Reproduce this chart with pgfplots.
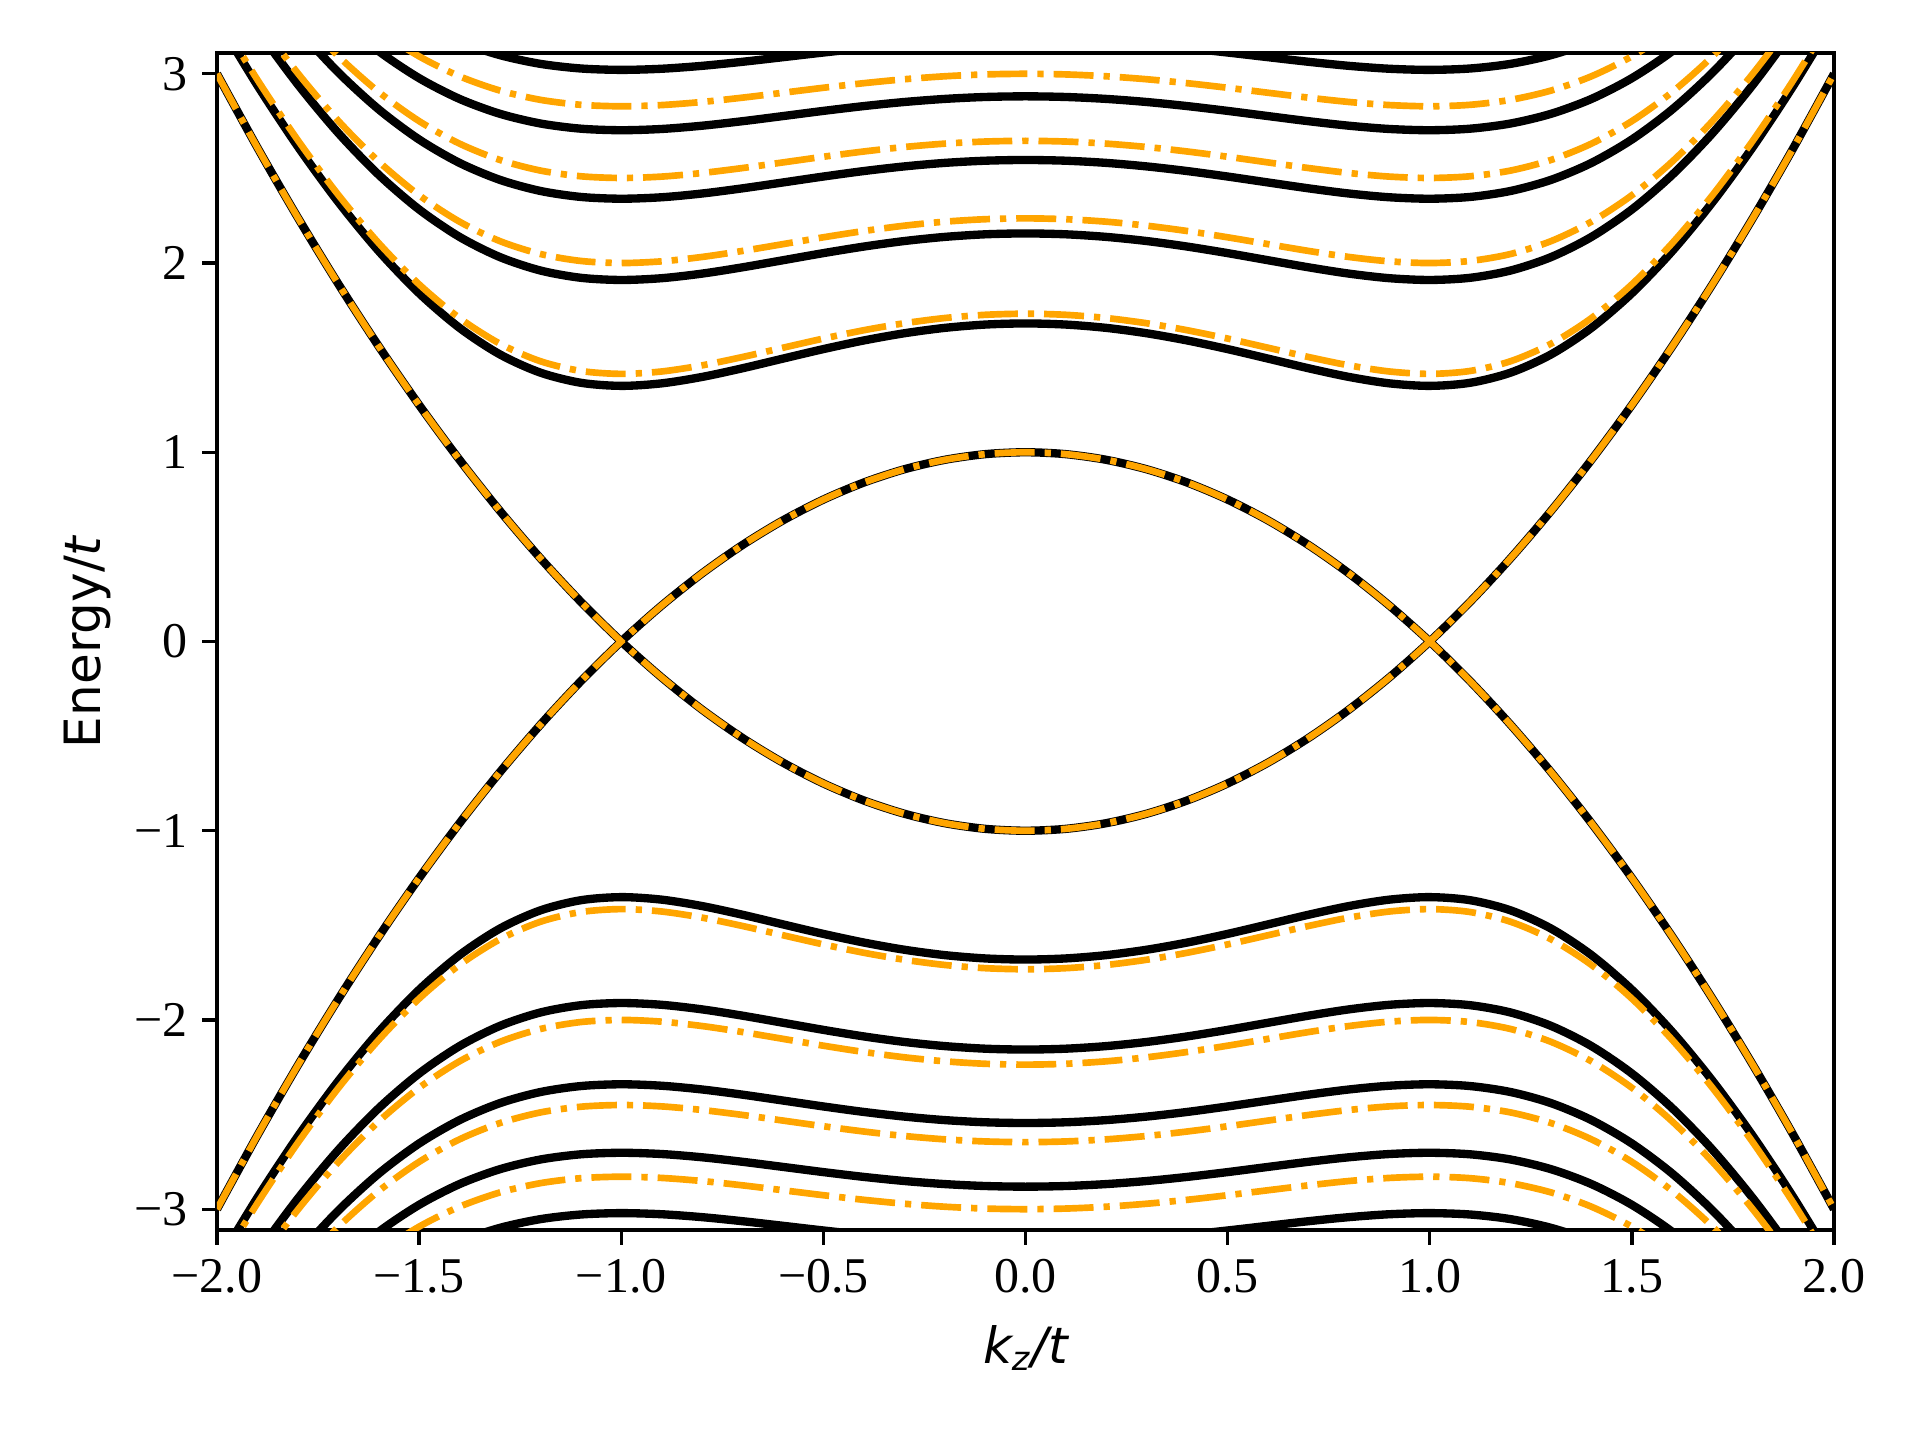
\documentclass[border=0pt]{standalone}
\usepackage{fontspec}
\setmainfont{Liberation Serif}
\newfontfamily\dejavu{DejaVu Sans}
\usepackage{pgfplots}
\usepackage{pgfplotstable}
\pgfplotsset{compat=1.18}
\definecolor{orng}{RGB}{255,165,0}

\pgfplotstableread{
k c b1 b2 b3 b4 b5 o1 o2 o3 o4
-2.0 3.00 3.2901 3.5567 3.8046 4.0373 4.2573 3.3166 3.6056 3.8730 4.1231
-1.9 2.61 2.9389 3.2345 3.5053 3.7566 3.9921 2.9685 3.2882 3.5794 3.8487
-1.8 2.24 2.6158 2.9441 3.2392 3.5097 3.7607 2.6491 3.0029 3.3193 3.6080
-1.7 1.89 2.3232 2.6874 3.0078 3.2973 3.5633 2.3605 2.7517 3.0939 3.4018
-1.6 1.56 2.0636 2.4665 2.8122 3.1199 3.3998 2.1056 2.5365 2.9041 3.2301
-1.5 1.25 1.8405 2.2831 2.6528 2.9770 3.2692 1.8875 2.3585 2.7500 3.0923
-1.4 0.96 1.6573 2.1381 2.5292 2.8673 3.1696 1.7093 2.2185 2.6309 2.9869
-1.3 0.69 1.5169 2.0313 2.4395 2.7886 3.0986 1.5736 2.1157 2.5448 2.9114
-1.2 0.44 1.4208 1.9605 2.3809 2.7374 3.0526 1.4811 2.0478 2.4887 2.8625
-1.1 0.21 1.3672 1.9220 2.3493 2.7100 3.0281 1.4297 2.0110 2.4585 2.8362
-1.0 0.00 1.3509 1.9105 2.3399 2.7019 3.0208 1.4142 2.0000 2.4495 2.8284
-0.9 -0.19 1.3642 1.9199 2.3476 2.7085 3.0267 1.4269 2.0090 2.4568 2.8348
-0.8 -0.36 1.3981 1.9441 2.3674 2.7257 3.0421 1.4593 2.0321 2.4758 2.8512
-0.7 -0.51 1.4440 1.9774 2.3948 2.7496 3.0635 1.5034 2.0640 2.5020 2.8740
-0.6 -0.64 1.4949 2.0148 2.4258 2.7766 3.0878 1.5523 2.0999 2.5317 2.8999
-0.5 -0.75 1.5452 2.0524 2.4571 2.8040 3.1125 1.6008 2.1360 2.5617 2.9262
-0.4 -0.84 1.5908 2.0870 2.4861 2.8294 3.1354 1.6449 2.1692 2.5895 2.9505
-0.3 -0.91 1.6288 2.1162 2.5106 2.8510 3.1548 1.6817 2.1973 2.6131 2.9712
-0.2 -0.96 1.6573 2.1381 2.5292 2.8673 3.1696 1.7093 2.2185 2.6309 2.9869
-0.1 -0.99 1.6748 2.1518 2.5407 2.8775 3.1788 1.7263 2.2316 2.6420 2.9967
0.0 -1.00 1.6808 2.1564 2.5446 2.8810 3.1820 1.7321 2.2361 2.6458 3.0000
0.1 -0.99 1.6748 2.1518 2.5407 2.8775 3.1788 1.7263 2.2316 2.6420 2.9967
0.2 -0.96 1.6573 2.1381 2.5292 2.8673 3.1696 1.7093 2.2185 2.6309 2.9869
0.3 -0.91 1.6288 2.1162 2.5106 2.8510 3.1548 1.6817 2.1973 2.6131 2.9712
0.4 -0.84 1.5908 2.0870 2.4861 2.8294 3.1354 1.6449 2.1692 2.5895 2.9505
0.5 -0.75 1.5452 2.0524 2.4571 2.8040 3.1125 1.6008 2.1360 2.5617 2.9262
0.6 -0.64 1.4949 2.0148 2.4258 2.7766 3.0878 1.5523 2.0999 2.5317 2.8999
0.7 -0.51 1.4440 1.9774 2.3948 2.7496 3.0635 1.5034 2.0640 2.5020 2.8740
0.8 -0.36 1.3981 1.9441 2.3674 2.7257 3.0421 1.4593 2.0321 2.4758 2.8512
0.9 -0.19 1.3642 1.9199 2.3476 2.7085 3.0267 1.4269 2.0090 2.4568 2.8348
1.0 0.00 1.3509 1.9105 2.3399 2.7019 3.0208 1.4142 2.0000 2.4495 2.8284
1.1 0.21 1.3672 1.9220 2.3493 2.7100 3.0281 1.4297 2.0110 2.4585 2.8362
1.2 0.44 1.4208 1.9605 2.3809 2.7374 3.0526 1.4811 2.0478 2.4887 2.8625
1.3 0.69 1.5169 2.0313 2.4395 2.7886 3.0986 1.5736 2.1157 2.5448 2.9114
1.4 0.96 1.6573 2.1381 2.5292 2.8673 3.1696 1.7093 2.2185 2.6309 2.9869
1.5 1.25 1.8405 2.2831 2.6528 2.9770 3.2692 1.8875 2.3585 2.7500 3.0923
1.6 1.56 2.0636 2.4665 2.8122 3.1199 3.3998 2.1056 2.5365 2.9041 3.2301
1.7 1.89 2.3232 2.6874 3.0078 3.2973 3.5633 2.3605 2.7517 3.0939 3.4018
1.8 2.24 2.6158 2.9441 3.2392 3.5097 3.7607 2.6491 3.0029 3.3193 3.6080
1.9 2.61 2.9389 3.2345 3.5053 3.7566 3.9921 2.9685 3.2882 3.5794 3.8487
2.0 3.00 3.2901 3.5567 3.8046 4.0373 4.2573 3.3166 3.6056 3.8730 4.1231
}\bands

\begin{document}
\begin{tikzpicture}
\begin{axis}[
  scale only axis,
  width=388.08pt, height=282.48pt,
  xmin=-2, xmax=2, ymin=-3.11, ymax=3.11,
  xtick={-2,-1.5,-1,-0.5,0,0.5,1,1.5,2},
  xticklabels={−2.0,−1.5,−1.0,−0.5,0.0,0.5,1.0,1.5,2.0},
  ytick={-3,-2,-1,0,1,2,3},
  yticklabels={−3,−2,−1,0,1,2,3},
  tick align=outside,
  xtick pos=left, ytick pos=left,
  major tick length=3.5pt,
  tick style={line width=0.8pt, black},
  axis line style={line width=0.8pt},
  tick label style={font=\fontsize{12}{14}\selectfont},
  xlabel={\dejavu\itshape k\textsubscript{z}/t},
  ylabel={\dejavu Energy/\textit{t}},
  label style={font=\fontsize{12}{14}\selectfont},
  xlabel style={at={(axis description cs:0.5,-0.1003)}, anchor=center},
  ylabel style={at={(axis description cs:-0.0804,0.5)}, anchor=center},
  clip=true,
  every axis plot/.append style={smooth},
  blk/.style={black, line width=2pt},
  org/.style={orng, line width=1.6pt, dash pattern=on 9.6pt off 2.4pt on 1.5pt off 2.4pt},
]
% black solid
\addplot[blk] table[x=k, y=c] {\bands};
\addplot[blk] table[x=k, y expr=-\thisrow{c}] {\bands};
\addplot[blk] table[x=k, y=b1] {\bands};
\addplot[blk] table[x=k, y=b2] {\bands};
\addplot[blk] table[x=k, y=b3] {\bands};
\addplot[blk] table[x=k, y=b4] {\bands};
\addplot[blk] table[x=k, y=b5] {\bands};
\addplot[blk] table[x=k, y expr=-\thisrow{b1}] {\bands};
\addplot[blk] table[x=k, y expr=-\thisrow{b2}] {\bands};
\addplot[blk] table[x=k, y expr=-\thisrow{b3}] {\bands};
\addplot[blk] table[x=k, y expr=-\thisrow{b4}] {\bands};
\addplot[blk] table[x=k, y expr=-\thisrow{b5}] {\bands};
% orange dash-dot
\addplot[org] table[x=k, y=c] {\bands};
\addplot[org] table[x=k, y expr=-\thisrow{c}] {\bands};
\addplot[org] table[x=k, y=o1] {\bands};
\addplot[org] table[x=k, y=o2] {\bands};
\addplot[org] table[x=k, y=o3] {\bands};
\addplot[org] table[x=k, y=o4] {\bands};
\addplot[org] table[x=k, y expr=-\thisrow{o1}] {\bands};
\addplot[org] table[x=k, y expr=-\thisrow{o2}] {\bands};
\addplot[org] table[x=k, y expr=-\thisrow{o3}] {\bands};
\addplot[org] table[x=k, y expr=-\thisrow{o4}] {\bands};
\end{axis}
\path ([xshift=-52.08pt, yshift=-50.4pt]current axis.south west) rectangle ([xshift=20.64pt, yshift=12.72pt]current axis.north east);
\end{tikzpicture}
\end{document}
